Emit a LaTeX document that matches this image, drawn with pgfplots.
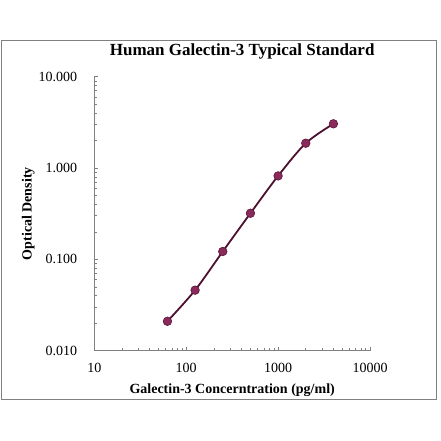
\documentclass[border=0pt]{standalone}
\usepackage{pgfplots}
\pgfplotsset{compat=1.18}
\usepackage{fontspec}
\setmainfont{Liberation Serif}

\definecolor{curve}{HTML}{4D1030}
\definecolor{dotfill}{HTML}{8A2A5C}
\definecolor{dotline}{HTML}{5A1535}
\definecolor{axisgray}{HTML}{808080}

\begin{document}
\begin{tikzpicture}
% page: 440 x 441 (1px = 1pt)
\path (0pt,0pt) rectangle (440pt,441pt);
\draw[axisgray, line width=0.9pt] (1pt,42pt) rectangle (436pt,401pt);

\begin{axis}[
    at={(94.3pt,90.3pt)}, anchor=south west,
    scale only axis,
    width=275.7pt, height=274pt,
    xmode=log, ymode=log,
    xmin=10, xmax=10000,
    ymin=0.01, ymax=10,
    axis lines=left,
    axis line style={-, axisgray, line width=0.9pt},
    every tick/.style={axisgray, line width=0.7pt},
    major tick length=4pt,
    minor tick length=2.5pt,
    tick align=inside,
    xtick={10,100,1000,10000},
    xticklabels={10,100,1000,10000},
    ytick={0.01,0.1,1,10},
    yticklabels={0.010,0.100,1.000,10.000},
    ticklabel style={font=\fontsize{14}{14}\selectfont},
    xticklabel style={inner sep=0pt, yshift=-12pt},
    yticklabel style={inner sep=0pt, xshift=-17pt},
    title={Human Galectin-3 Typical Standard},
    every axis title shift=0pt,
    title style={at={(axis description cs:0.5,1)}, anchor=base, yshift=21.7pt, xshift=10pt,
        font=\bfseries\fontsize{17}{17}\selectfont},
    xlabel={Galectin-3 Concerntration (pg/ml)},
    xlabel style={at={(axis description cs:0.5,0)}, anchor=base, yshift=-43pt,
        font=\bfseries\fontsize{14}{14}\selectfont},
    ylabel={Optical Density},
    ylabel style={at={(axis description cs:0,0.5)}, anchor=base, yshift=62.8pt,
        font=\bfseries\fontsize{14}{14}\selectfont},
    clip=false,
]
\addplot[
    color=curve,
    line width=1.8pt,
    smooth,
    mark=*,
    mark size=4.3pt,
    mark options={fill=dotfill, draw=dotline, line width=0.6pt},
] coordinates {
    (62.5,0.021) (125,0.046) (250,0.122) (500,0.32) (1000,0.82) (2000,1.87) (4000,3.05)
};
\end{axis}
\end{tikzpicture}
\end{document}
